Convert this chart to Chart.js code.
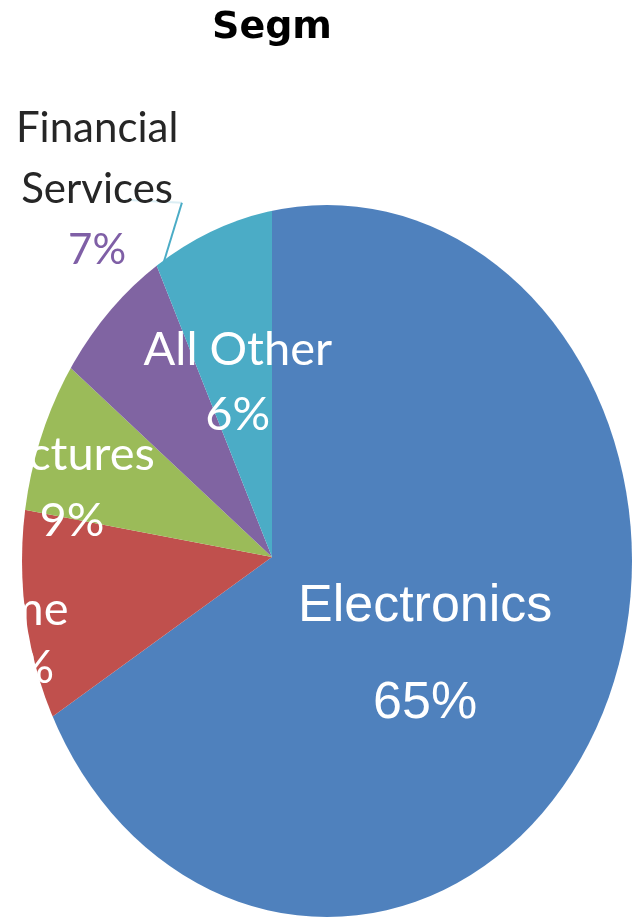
<!DOCTYPE html>
<html>
<head>
<meta charset="utf-8">
<script src="https://cdn.jsdelivr.net/npm/chart.js@4.4.1/dist/chart.umd.min.js"></script>
<style>
  html, body { margin: 0; padding: 0; background: #fff; }
  #wrap { position: relative; width: 636px; height: 918px; overflow: hidden; }
  #grafico { position: absolute; left: -108px; top: 0; }
</style>
</head>
<body>
<div id="wrap"><canvas id="grafico" width="760" height="937"></canvas></div>
<script>
// datos del grafico
const titulo = 'Segm';
const segmentos = [['Electronics'], ['Game'], ['Pictures'], ['Financial', 'Services'], ['All Other']];
const porcentajes = [65, 13, 9, 7, 6];
const colores = ['#4F81BD', '#C0504D', '#9BBB59', '#8064A2', '#4BACC6'];

// posicion de cada etiqueta: fraccion del radio sobre el angulo medio + ajuste
const posiciones = [
  { f: 0.47, dx: -6, dy: 17, gap: 97, font: '52px "Liberation Sans"', color: '#fff', pctColor: '#fff' },
  { f: 0.72, dx: 3, dy: 22, gap: 58, font: '47px Lato', color: '#fff', pctColor: '#fff' },
  { f: 0.60, dx: 3, dy: 34, gap: 66, font: '47px Lato', color: '#fff', pctColor: '#fff' },
  { f: 1.17, dx: 75, dy: 0, gap: 61, font: '42px Lato', color: '#262626', pctColor: '#7F5FA6' },
  { f: 0.48, dx: 0, dy: 5, gap: 65, font: '47px Lato', color: '#fff', pctColor: '#fff' }
];

// plugin: recorte eliptico del pastel + etiquetas + linea guia
const etiquetasPlugin = {
  id: 'etiquetas',
  beforeDatasetsDraw(chart, args, opts) {
    const arc = chart.getDatasetMeta(0).data[0];
    const p = arc.getProps(['x', 'y'], true);
    const ctx = chart.ctx;
    ctx.save();
    ctx.beginPath();
    ctx.ellipse(p.x + opts.elipse.dx, p.y + opts.elipse.dy, opts.elipse.rx, opts.elipse.ry, 0, 0, Math.PI * 2);
    ctx.clip();
  },
  afterDatasetsDraw(chart, args, opts) {
    const ctx = chart.ctx;
    ctx.restore();
    const meta = chart.getDatasetMeta(0);
    const total = porcentajes.reduce((a, b) => a + b, 0);

    // linea guia de la etiqueta exterior
    const g = opts.guia;
    const ga = meta.data[g.index].getProps(['x', 'y', 'endAngle', 'outerRadius'], true);
    const ex = ga.x + Math.cos(ga.endAngle) * g.f * ga.outerRadius + g.dx;
    const ey = ga.y + Math.sin(ga.endAngle) * g.f * ga.outerRadius + g.dy;
    ctx.save();
    ctx.strokeStyle = colores[4];
    ctx.lineWidth = 2;
    ctx.beginPath();
    ctx.moveTo(ex, ey);
    ctx.lineTo(ex + g.codo[0], ey + g.codo[1]);
    ctx.stroke();
    ctx.globalAlpha = 0.2;
    ctx.beginPath();
    ctx.moveTo(ex + g.codo[0], ey + g.codo[1]);
    ctx.lineTo(ex + g.codo[0] + g.largo, ey + g.codo[1] - 3);
    ctx.stroke();
    ctx.restore();

    meta.data.forEach((arc, i) => {
      const p = arc.getProps(['x', 'y', 'startAngle', 'endAngle', 'outerRadius'], true);
      const cfg = posiciones[i];
      const mid = (p.startAngle + p.endAngle) / 2;
      const cx = p.x + Math.cos(mid) * cfg.f * p.outerRadius + cfg.dx;
      const cy = p.y + Math.sin(mid) * cfg.f * p.outerRadius + cfg.dy;
      const lineas = [...segmentos[i], Math.round(porcentajes[i] / total * 100) + '%'];
      ctx.save();
      ctx.font = cfg.font;
      ctx.textAlign = 'center';
      ctx.textBaseline = 'middle';
      lineas.forEach((t, k) => {
        ctx.fillStyle = k === lineas.length - 1 ? cfg.pctColor : cfg.color;
        ctx.fillText(t, cx, cy + (k - (lineas.length - 1) / 2) * cfg.gap);
      });
      ctx.restore();
    });
  }
};

const ctx = document.getElementById('grafico').getContext('2d');
new Chart(ctx, {
  type: 'pie',
  data: {
    labels: segmentos,
    datasets: [{
      data: porcentajes,
      backgroundColor: colores,
      borderWidth: 0
    }]
  },
  options: {
    responsive: false,
    devicePixelRatio: 1,
    animation: false,
    layout: { padding: 0 },
    plugins: {
      legend: { display: false },
      tooltip: { enabled: false },
      title: {
        display: true,
        text: titulo,
        color: '#000',
        font: { family: 'DejaVu Sans', size: 38, weight: 'bold' },
        padding: { top: 5, bottom: 126.4 }
      },
      etiquetas: {
        elipse: { dx: 55, dy: 4, rx: 305, ry: 356 },
        guia: { index: 3, f: 0.83, dx: 8, dy: -2, codo: [18, -59], largo: -57 }
      }
    }
  },
  plugins: [etiquetasPlugin]
});
</script>
</body>
</html>
